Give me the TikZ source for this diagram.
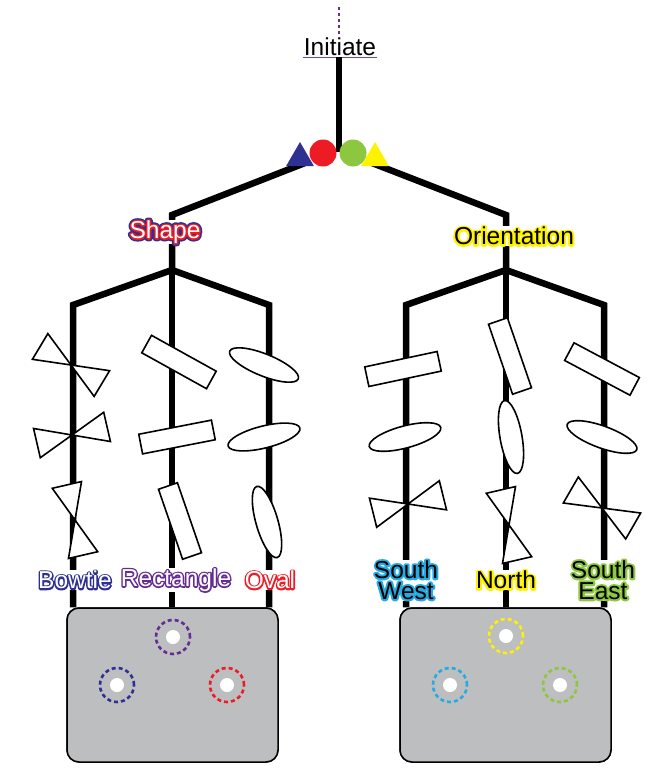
\documentclass[tikz,border=0pt]{standalone}
\usepackage{fontspec}
\setmainfont{Liberation Sans}
\usetikzlibrary{shapes.geometric}

\definecolor{navy}{RGB}{46,49,146}
\definecolor{cred}{RGB}{237,28,36}
\definecolor{cgreen}{RGB}{141,198,63}
\definecolor{cyellow}{RGB}{255,242,0}
\definecolor{cpurple}{RGB}{102,45,145}
\definecolor{ccyan}{RGB}{39,170,225}
\definecolor{trayg}{RGB}{188,190,192}

\newcommand\stroked[3]{\rlap{\special{pdf:literal direct q 2 Tr #2 w 1 j}\textcolor{#1}{#3}\special{pdf:literal direct Q}}}
\newcommand\hollow[2]{\stroked{#1}{3}{#2}\textcolor{white}{#2}}
\newcommand\glow[2]{\stroked{#1}{4}{#2}#2}

\tikzset{
  bowtie/.pic={
    \draw[shapeline] (0,0) -- (-36,15) -- (-36,-15) -- cycle
                     (0,0) -- (36,15) -- (36,-15) -- cycle;
  }
}

\begin{document}
\begin{tikzpicture}[x=1pt,y=-1pt,
    branch/.style={line width=6.5pt, line join=miter},
    shapeline/.style={draw, fill=white, line width=1.6pt},
    rectshape/.style={shapeline, rectangle, minimum width=74pt, minimum height=20pt, inner sep=0pt},
    ovalshape/.style={shapeline, ellipse, minimum width=74pt, minimum height=22pt, inner sep=0pt},
    lbl/.style={font=\fontsize{24.5}{21}\selectfont, fill=white, inner sep=1pt, align=center},
    tri/.style={regular polygon, regular polygon sides=3, minimum size=32pt, inner sep=0pt},
    dot/.style={circle, minimum size=27pt, inner sep=0pt},
    tray/.style={draw, fill=trayg, line width=1.5pt, rounded corners=12pt,
      minimum width=211pt, minimum height=154pt},
    well/.style={circle, draw=#1, line width=2.6pt, dash pattern=on 4pt off 3pt,
      minimum size=34pt, inner sep=0pt}]

  \useasboundingbox (0,0) rectangle (654,771);

  \node[font=\fontsize{24.5}{24}\selectfont, inner sep=1pt] (init) at (340,47) {Initiate};
  \coordinate (dtop) at (339,7);
  \draw[cpurple, dashed, line width=1.2pt] (dtop) -- (dtop |- init.north);
  \draw[blue!70, line width=0.6pt] (init.south west) -- (init.south east);

  \coordinate (hub) at (339,152);
  \coordinate (ls) at (305,163);
  \coordinate (rs) at (372,163);
  \coordinate (lcorner) at (172,215);
  \coordinate (rcorner) at (506,215);
  \coordinate (ljunc) at (172,270);
  \coordinate (rjunc) at (506,270);
  \coordinate (l1) at (73,305);
  \coordinate (l3) at (269,305);
  \coordinate (r1) at (406,305);
  \coordinate (r3) at (604,305);

  \node[tray] (trayL) at (172.5,685) {};
  \node[tray] (trayR) at (505.5,685) {};

  \draw[branch] (hub |- init.south) -- (hub);
  \draw[branch] (ls) -- (lcorner) -- (ljunc);
  \draw[branch] (rs) -- (rcorner) -- (rjunc);
  \draw[branch] (ljunc) -- (l1) -- (l1 |- trayL.north);
  \draw[branch] (ljunc) -- (ljunc |- trayL.north);
  \draw[branch] (ljunc) -- (l3) -- (l3 |- trayL.north);
  \draw[branch] (rjunc) -- (r1) -- (r1 |- trayR.north);
  \draw[branch] (rjunc) -- (rjunc |- trayR.north);
  \draw[branch] (rjunc) -- (r3) -- (r3 |- trayR.north);

  \node[tray] at (trayL) {};
  \node[tray] at (trayR) {};

  \node[tri, fill=navy] (tb) at (300,158) {};
  \node[dot, fill=cred] (cr) at (323,153) {};
  \node[dot, fill=cgreen] (cg) at (353,153) {};
  \node[tri, fill=cyellow] (ty) at (375,158) {};

  \node[lbl] (shape) at (165,232) {\stroked{navy}{6}{Shape}\hollow{cred}{Shape}};
  \node[lbl] (orient) at (514,236) {\glow{cyellow}{Orientation}};

  \pic[rotate=-31] at (71,365) {bowtie};
  \pic[rotate=13] at (72,435) {bowtie};
  \pic[rotate=-77] at (75,520) {bowtie};
  \node[rectshape, rotate=-29] (rect1) at (179,362) {};
  \node[rectshape, rotate=11] (rect2) at (177,437) {};
  \node[rectshape, rotate=-71] (rect3) at (180,521) {};
  \node[ovalshape, rotate=-22] (oval1) at (264,365) {};
  \node[ovalshape, rotate=14] (oval2) at (264,437) {};
  \node[ovalshape, rotate=-74] (oval3) at (267,522) {};

  \node[rectshape, rotate=12] (sw1) at (403,369) {};
  \node[ovalshape, rotate=15] (sw2) at (405,437) {};
  \pic[rotate=14] at (408,504) {bowtie};
  \node[rectshape, rotate=-71] (n1) at (510,356) {};
  \node[ovalshape, rotate=-80] (n2) at (511,437) {};
  \pic[rotate=-77] at (509,525) {bowtie};
  \node[rectshape, rotate=-28] (se1) at (602,369) {};
  \node[ovalshape, rotate=-20] (se2) at (602,437) {};
  \pic[rotate=-30] at (602,508) {bowtie};

  \node[lbl] (bowtie) at (75,580) {\hollow{navy}{Bowtie}};
  \node[lbl] (rectangle) at (176,580) {\hollow{cpurple}{Rectangle}};
  \node[lbl] (oval) at (270,580) {\hollow{cred}{Oval}};
  \node[lbl] (southwest) at (406,580) {\glow{ccyan}{South}\\\glow{ccyan}{West}};
  \node[lbl] (north) at (506,580) {\glow{cyellow}{North}};
  \node[lbl] (southeast) at (603,580) {\glow{cgreen}{South}\\\glow{cgreen}{East}};

  \node[well=cpurple] (w1) at (173,637) {};
  \node[well=navy] (w2) at (117,685) {};
  \node[well=cred] (w3) at (227,685) {};
  \node[well=cyellow] (w4) at (506,636) {};
  \node[well=ccyan] (w5) at (450,685) {};
  \node[well=cgreen] (w6) at (560,685) {};
  \foreach \w in {w1,w2,w3,w4,w5,w6}
    \fill[white] (\w) circle (7);

\end{tikzpicture}
\end{document}
